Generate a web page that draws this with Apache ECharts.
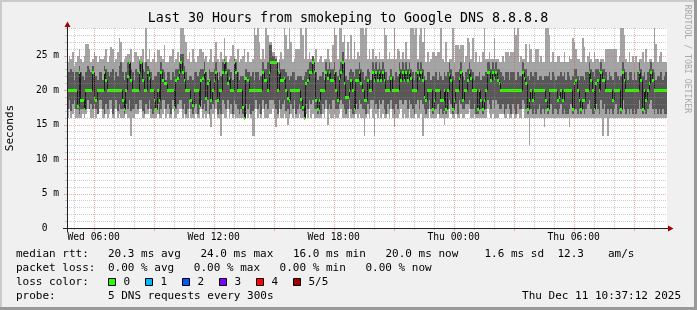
<!DOCTYPE html>
<html><head><meta charset="utf-8">
<script src="https://cdn.jsdelivr.net/npm/echarts@6/dist/echarts.min.js"></script>
<style>html,body{margin:0;padding:0;background:#f0f0f0}#c{width:697px;height:310px}</style>
</head><body><div id="c"></div>
<script>
// time axis in minutes from Wed 00:00; one sample every 5 minutes (300 s)
const startMinute = 280;   // Wed 04:40
const stepMinutes = 5;

// median rtt (ms) per step
const median = [
20,20,20,20,20,20,17.7,22.6,18.6,18.6,17.3,20,20,20,20,22.6,18.8,18.6,20,20,
20,20,22.6,21.4,20,20,20,20,20,20,20,20,20,18.6,17.3,20,22,24,21.4,20,
20,20,20,22.6,24,21.4,20,20,22.6,21.7,20,20,18.6,17.3,20,18.6,22.6,21.4,21,21,
20,20,20,20,17.5,21.4,21.7,22.6,24,22.6,21.4,20,20,20,18.6,17.9,20,20,20,17.7,
21.4,21.7,22.6,18.9,21,21.4,18.6,20,21.4,22.6,18.6,20,20,22.6,24,22.6,21,21.7,20,20,
24,22.6,20,20,20,17.5,16,21.7,21.4,20,20,20,20,20,20,20,20,22.6,21.4,21.4,
20,22.6,24,24,24,24,20,22.6,21.4,21.4,21.7,20,18.8,18.6,20,20,20,20,20,20,
18.7,17.5,16,21,21.4,22.6,22.6,24,22.6,18.6,17.3,18.6,20,20,20,22.6,21.7,22.6,21.4,21.4,
22.6,20,18.6,21.7,22.6,24,21,19,19,20,21.4,20,17.3,21.4,21.4,22.6,21,20,18.6,18.6,
21.4,20,20,22.6,21.4,22.6,21.4,22.6,21.4,22.6,21.4,20,20,20,21.7,20,20,20,20,22.6,
21.4,22.6,21.4,22.6,21.4,22.6,21.7,20,20,20,22.6,21.7,22.6,21.4,19,18.6,20,20,20,17.3,
18.6,20,20,20,18.5,18.6,20,17.3,20,22.4,21.4,17.3,18.6,20,20,21.7,22.6,18.5,20,20,
21.4,22.6,21.7,20,20,20,17.3,20,18.6,17.3,18.6,20,22.6,22.6,21.4,22.6,21.7,22.6,21.4,21,
20,20,20,20,20,20,20,20,20,20,20,20,20,22.6,21.7,21,17.3,18.6,20,18.6,
20,20,20,20,20,20,20,18.6,17.3,20,20,20,20,20,18.6,19,20,18.6,20,20,
20,20,20,17.3,21,21.4,20,18.6,17.3,18.6,18.6,20,20,22.6,21.4,20,17.3,21,21.4,20,
22.6,21.4,21.4,20,20,20,20,18.6,20,20,20,20,17.3,22.6,21.4,20,20,20,20,20,
20,20,20,22.6,21.4,17.3,20,18.6,20,21,22.6,21.4,20,20,20,20,20,20,20,20];

// smoke: lowest ping (ms)
const pingMin = [
16,17.3,16,16.5,17.3,16,16,16,16,16.5,16,16.5,17.3,17.3,16,16,17.3,16,16.5,17.3,
17.3,16,16,16.5,16,16.5,17.3,16,16,17.3,16,16.5,16,16,16,16.5,16,16,13.4,16,
16,16.5,16.5,17.3,17.3,16,16,16.5,16.5,17.3,16,16,16,16,16.5,16,16,16.5,17.3,16,
16.5,16,16,17.3,16,16,16.5,17.3,17.3,16,16.5,16,16,17.3,16,16,16,16.5,16,16,
17.3,16,16.5,16,16.5,16,14.7,16.5,16,17.3,16,16,13.4,16.5,16,16,17.3,16,16.5,16,
16.5,16,16,16,16,16,16,16.5,16,16.5,16,13.4,13.4,17.3,16,16.5,16,17.3,16,16,
16,16.5,16.5,17.3,16,14.7,16,17.3,16,16,16.5,16,14.9,16,16.5,16,17.3,16,16,16.5,
16,16,16,16.5,16,17.3,16,16.5,16,16,16,16,16,16.5,16,17.3,14.9,16.5,16,16,
16.5,16,16,16.5,17.3,16,16,16,16,17.3,16,16,16,16.5,16,16.5,16,16,13.4,16,
16.5,16,17.3,16,13.4,16.5,16,17.3,16,16.5,16,16,16.5,16,17.3,16,14.7,16,16,16.5,
17.3,16,16.5,16,16,17.3,16,16,16,16.5,16,16,16.5,13.4,16,16,16,17.3,16,16,
16,16,16.5,16,16,16,15,16,16,17.3,16.5,16,16,16.5,16,16,16.5,16,16,16.5,
16.5,17.3,16,16,16.5,16,16,16,16,16,16,16,17.3,16.5,16,16.5,16,16,16,16.5,
16.5,16.5,16,16,16.5,16,16,16.5,16,16,16.5,16,16,17.3,16,16,16,12,16,16,
16,16,16,16,16,16,14.7,16,16,16,16,16,16,16,16,16,16,16,16,16,
16,14.7,16,16,16,16,16,16,16,16,16,16,16,16,16,16,16,16,16,16,
16,13.4,16,16,13.4,16,16,16,16,16,16,16,16,16,16,16,16,16,16,16,
16,16,16,16,16,16,16,16,16,16,16,16,16,16,16,16,16,16,16,16];

// smoke: second ping (ms)
const pingLow = [
17.3,18.6,17,18,18.6,17.3,17.3,16.5,17.3,17.3,17,17.3,18.6,17.3,18,17.3,18,17.3,16.5,18.6,
18.6,17.3,16.5,18,17.3,18.6,18.6,16.5,17.3,18.6,17,18,17.3,17.3,16.5,18,17.3,18.6,17,17.3,
17.3,18,17.3,18.6,18.6,17,16.5,18,17.3,18.6,17.3,16.5,17.3,17,18,16.5,17.3,18.6,18.6,17.3,
18,17.3,16.5,18.6,17,17.3,18,18.6,18.6,17.3,18,16.5,17.3,18.6,17.3,16.5,17.3,18,16.5,17.3,
18.6,17.3,18,17,18.6,16.5,17.3,18,17.3,18.6,16.5,17.3,16.5,18.6,18,17.3,18.6,17.3,18,16.5,
18.6,18,17.3,16.5,17.3,16.5,16,18,17.3,18,16.5,17,17.3,18.6,17.3,18,16.5,18.6,17.3,18,
17.3,18.6,18.6,18.6,18,17.3,16.5,18.6,17.3,18,18.6,17,17.3,16.5,18,17.3,18.6,16.5,17.3,18,
17.3,17,16,18,17.3,18.6,18,18.6,17.3,17.3,16.5,17.3,16.5,18,17.3,18.6,17.3,18,17.3,18.6,
18.6,17.3,17.3,18,18.6,18,17.3,16.5,17.3,18.6,17.3,16.5,16.5,18,17.3,18.6,18,17.3,17.3,16.5,
18,17.3,18.6,18.6,17.3,18,17.3,18.6,18,18.6,17.3,16.5,18,17.3,18.6,17.3,16.5,18,17.3,18.6,
18.6,18,18.6,18.6,17.3,18.6,18,17.3,16.5,18,18.6,17.3,18.6,18,17.3,16.5,17.3,18.6,17.3,16.5,
17.3,17.3,18,16.5,17.3,16.5,17,16.5,17.3,18.6,18,16.5,17.3,18,16.5,18.6,18,17.3,17.3,18,
18,18.6,17.3,17.3,18,16.5,16.5,17.3,17.3,16.5,17.3,17.3,18.6,18,17.3,18.6,17.3,18.6,18,17.3,
17.3,18,16.5,17.3,18,17.3,16.5,18,17.3,16.5,18,17.3,17.3,18.6,18,17.3,16.5,17.3,17.3,16.5,
17.3,16.5,17.3,18,16.5,17.3,16.5,17.3,16.5,17.3,18,16.5,17.3,17.3,16.5,17.3,18,16.5,17.3,16.5,
16.5,17.3,18,16.5,18,17.3,16.5,17.3,16.5,17.3,16.5,17.3,18,18.6,17.3,16.5,16.5,18,17.3,16.5,
18.6,17.3,18,16.5,17.3,16.5,17.3,16.5,17.3,18,16.5,17.3,16.5,18.6,17.3,16.5,17.3,16.5,17.3,16.5,
17.3,16.5,17.3,18.6,17.3,16.5,17.3,16.5,17.3,18,18.6,17.3,16.5,17.3,16.5,17.3,16.5,17.3,16.5,16.5];

// smoke: fourth ping (ms)
const pingHigh = [
22.6,22.6,23,22.6,21.4,22.6,22.6,23.5,22.6,22,21.4,22.6,23.5,23,22.6,23.5,22.6,22,21.4,22.6,
22.6,21.4,23.5,23,22.6,22,22.6,23,21.4,22.6,22,23.5,24,22.6,21.4,22.6,24,24.2,23,22.6,
21.4,23,22.6,24.2,24.2,23,22.6,24,23.5,23,22.6,21.4,22,22,22.6,22.6,24,23,22.6,21.4,
22.6,22.6,21.4,22.6,22,23,23,24,25.3,25.3,23.5,22.6,21.4,22,22,21.4,22.6,22.6,22,22.6,
23,23,24,22.6,21.4,23,22.6,22.6,23,24,21.4,22.6,22,24,24.5,24,23,23,22.6,21.4,
24.5,24,22.6,21.4,22,22,21.4,23,22.6,22.6,22,22.6,21.4,22.6,22.6,21.4,22,24,23,23,
24,26.5,26.5,25,25,24.5,22.6,24,23,23,23,22.6,22,21.4,22,22.6,22.6,21.4,22,22,
22,21.4,22,22.6,23,24,24,25,24,22.6,21.4,22,22,22.6,21.4,24,23,24,23,23,
24,22.6,22,23,24,25.5,23,22,21.4,22.6,23,22.6,22,23,23,24,23,22.6,21.4,22,
23,22.6,21.4,24,23,24,23,24,23,24,23,22.6,21.4,22,23,22,21.4,22.6,22,24,
23,24,23,24,23,24,23,22.6,21.4,22.6,24,23,24,23,22,21.4,22.6,22.6,21.4,22,
22,22.6,21.4,22.6,22,21.4,22.6,22,22.6,24,23,22,21.4,22.6,22.6,23,24,22,21.4,22.6,
23,24,23,22.6,21.4,22,22,22.6,21.4,22,22,22.6,24,24,23,24,23,24,23,23,
22.6,22,21.4,22.6,22.6,21.4,22.6,22.6,22.6,21.4,22.6,22,22,24,23,23,22,21.4,22.6,22,
22.6,22.6,21.4,22,22,21.4,22,22,22,22.6,21.4,22.6,22,21.4,22,22,22.6,22,22.6,21.4,
22.6,22,21.4,22,23,23,22,21.4,22,22,21.4,22.6,22.6,24,23,22.6,22,23,23,22.6,
24,23,23,22.6,21.4,22.6,22,21.4,22.6,22.6,22,21.4,22,24,23,22.6,21.4,22.6,22.6,21.4,
22.6,21.4,22.6,24,23,22,22.6,21.4,22.6,23,24,23,22.6,21.4,22,22,22.6,21.4,22,22.6];

// smoke: highest ping (ms)
const pingMax = [
24,25,24.5,25.5,23.5,24,25,26,24.5,24,25,26.7,26.7,26,24,24.5,25.5,25,24,25,
24.5,24.5,25,26,24,25,26.2,26,24,24.5,25.5,27.6,27,24,24.5,25,25.3,25.3,26,24,
25.5,25.5,25,24.5,25,26,24,29,24.5,26,24,24.5,25.5,24,25.8,25.8,25,24.5,26.5,24,
24,25,25,26,24,24.5,25.5,24,29,29,28,27,24.5,25.5,24,26,24.5,24,25,26,
26,25.5,24.5,25,24,24.5,26,24,25,27,24.5,24,25.5,24.5,27.5,25,24,24.5,25,26.5,
25,24.5,26,24,24.5,25,26,24,25.5,24,24,24.5,29,28,29,27,24.5,26,24.5,29,
28,27,27,25.5,25.5,25,24,24.5,25.5,24.5,29,28,26,29,27,24,24.5,26,26,26,
29,28,24.5,29,24.5,25.5,24.5,25,24.5,26,24,24.5,25,24,24.5,24.5,26,24.5,24,26.5,
29,28,24.5,29,29,27,28,24.5,27,24.5,28,24.5,27,24.5,25.5,25,29,29,28,29,
24.5,26,24.5,26,24.5,25,24.5,25.5,24.5,24.5,29,28,24.5,25.5,24.5,24.5,29,24.5,26,25.7,
24.5,25.5,24.5,27,24.5,24.5,29,29,28,29,24.5,28,29,27,29,24,25.5,24,24.5,25.5,
25.5,25,25.5,25.5,29,24.5,24,27,24,24.5,24.5,29,24,26.5,26.5,26,26.5,26.5,24,25,
27.5,27,24.5,27.5,24,25.5,24,25,24,25.5,29,24.5,24.5,25.5,24.5,24.5,27.5,24.5,24.5,24,
24,25,24,25.5,25.5,25,25.5,25.5,29,28,29,24,25,24.5,24.5,26.7,24,26.7,26,24,
24,26,26,24,25,24,24,29,29,28,24,25.5,24,24,25,25,24,24,25.5,24,
24,25,24.5,27.5,27,26,24.5,24.5,24,27.5,26.2,24,25,25.5,24.5,24,25.5,24.5,24.5,24,
24.5,24.5,24,26,26,26,26,26,26,26,24,25,29,29,28,24.5,24,25.5,24,25,
24,25,24,24.5,24.5,25.5,24,26,24,24.5,24.5,24,29,26.7,24,25,25.5,24,24,24];

const yMax = 29;
const xTickValues = [360, 720, 1080, 1440, 1800];
const xTickLabels = ['Wed 06:00', 'Wed 12:00', 'Wed 18:00', 'Thu 00:00', 'Thu 06:00'];
const yTickValues = [0, 5, 10, 15, 20, 25];
const yTickLabels = ['0  ', '5 m', '10 m', '15 m', '20 m', '25 m'];
const gridHours = [300,360,420,480,540,600,660,720,780,840,900,960,1020,1080,1140,1200,1260,1320,1380,1440,1500,1560,1620,1680,1740,1800,1860,1920,1980,2040];
const gridMs = [1,2,3,4,5,6,7,8,9,10,11,12,13,14,15,16,17,18,19,20,21,22,23,24,25,26,27,28,29];

const titleText = 'Last 30 Hours from smokeping to Google DNS 8.8.8.8';
const rttStats = [['median rtt:',16],['20.3 ms avg',108],['24.0 ms max',200.5],['16.0 ms min',293],['20.0 ms now',385.5],['1.6 ms sd',484.5],['12.3',557.5],['am/s',608]];
const lossStats = [['packet loss:',16],['0.00 % avg',108],['0.00 % max',193.8],['0.00 % min',279.6],['0.00 % now',365.4]];
const lossLevels = ['0','1','2','3','4','5/5'];
const lossColors = ['#26ff00','#00b8ff','#0059ff','#7e00ff','#ff0000','#a00000'];
const lossBoxX = [108,145,182,219,256,293];
const probeText = '5 DNS requests every 300s';
const stampText = 'Thu Dec 11 10:37:12 2025';

const MONO = "'DejaVu Sans Mono', monospace";
const LEGEND_FONT = '11px ' + MONO;

const smokeData = median.map((m, i) => [startMinute + i * stepMinutes, pingMin[i], pingLow[i], pingHigh[i], pingMax[i]]);
const medianData = median.map((m, i) => [startMinute + i * stepMinutes, m, i > 0 ? median[i - 1] : m]);

function px(api, t, v) { const p = api.coord([t, v]); return [Math.round(p[0]), Math.round(p[1])]; }

function renderSmoke(params, api) {
  const t = api.value(0);
  const xa = px(api, t, 0)[0], xb = px(api, t + stepMinutes, 0)[0];
  const y1 = px(api, t, api.value(1))[1], y2 = px(api, t, api.value(2))[1];
  const y4 = px(api, t, api.value(3))[1], y5 = px(api, t, api.value(4))[1];
  return { type: 'group', children: [
    { type: 'rect', shape: { x: xa, y: y5, width: xb - xa, height: y1 - y5 }, style: { fill: '#a4a4a4' } },
    { type: 'rect', shape: { x: xa, y: y4, width: xb - xa, height: y2 - y4 }, style: { fill: '#585858' } }
  ]};
}
function renderMedianLine(params, api) {
  const t = api.value(0);
  const xa = px(api, t, 0)[0], xb = px(api, t + stepMinutes, 0)[0];
  const yc = px(api, t, api.value(1))[1], yp = px(api, t, api.value(2))[1];
  return { type: 'group', children: [
    { type: 'line', shape: { x1: xa + 0.5, y1: yp + 0.5, x2: xa + 0.5, y2: yc + 0.5 }, style: { stroke: '#1a1a1a', lineWidth: 1 } },
    { type: 'line', shape: { x1: xa, y1: yc + 0.5, x2: xb, y2: yc + 0.5 }, style: { stroke: '#1a1a1a', lineWidth: 1 } }
  ]};
}
function renderMedianBand(params, api) {
  const t = api.value(0);
  const xa = px(api, t, 0)[0], xb = px(api, t + stepMinutes, 0)[0];
  const yc = px(api, t, api.value(1))[1];
  return { type: 'rect', shape: { x: xa, y: yc - 1, width: xb - xa, height: 3 }, style: { fill: lossColors[0] } };
}
const MINOR = 'rgba(143,143,143,0.46)';
const MAJOR = 'rgba(222,80,80,0.47)';
function renderVGrid(params, api) {
  const t = api.value(0);
  const major = t % 180 === 0;
  const b = px(api, t, 0), top = px(api, t, yMax);
  const x = b[0] + 0.5, c = major ? MAJOR : MINOR;
  return { type: 'group', children: [
    { type: 'line', shape: { x1: x, y1: top[1], x2: x, y2: b[1] }, style: { stroke: c, lineWidth: 1, lineDash: [1, 1] } },
    { type: 'line', shape: { x1: x, y1: b[1], x2: x, y2: b[1] + (major ? 3 : 2) }, style: { stroke: c, lineWidth: 1 } }
  ]};
}
function renderHGrid(params, api) {
  const v = api.value(1);
  const major = v % 5 === 0;
  const l = px(api, startMinute, v), r = px(api, startMinute + median.length * stepMinutes, v);
  const y = l[1] + 0.5, c = major ? MAJOR : MINOR;
  return { type: 'group', children: [
    { type: 'line', shape: { x1: l[0], y1: y, x2: r[0], y2: y }, style: { stroke: c, lineWidth: 1, lineDash: [1, 1] } },
    { type: 'line', shape: { x1: l[0] - (major ? 3 : 2), y1: y, x2: l[0], y2: y }, style: { stroke: c, lineWidth: 1 } }
  ]};
}

const graphics = [
  { type: 'rect', z: 100, shape: { x: 0, y: 0, width: 697, height: 2 }, style: { fill: '#cbcbcb' } },
  { type: 'rect', z: 100, shape: { x: 0, y: 0, width: 2, height: 310 }, style: { fill: '#cbcbcb' } },
  { type: 'rect', z: 100, shape: { x: 0, y: 307, width: 697, height: 3 }, style: { fill: '#999999' } },
  { type: 'rect', z: 100, shape: { x: 694, y: 0, width: 3, height: 310 }, style: { fill: '#999999' } },
  // axes
  { type: 'line', z: 100, shape: { x1: 63, y1: 228.5, x2: 669, y2: 228.5 }, style: { stroke: '#202020', lineWidth: 1 } },
  { type: 'line', z: 100, shape: { x1: 67.5, y1: 232, x2: 67.5, y2: 26 }, style: { stroke: '#202020', lineWidth: 1 } },
  { type: 'polygon', z: 100, shape: { points: [[668, 225.5], [673.5, 228.5], [668, 231.5]] }, style: { fill: '#a00000' } },
  { type: 'polygon', z: 100, shape: { points: [[64.5, 27], [67.5, 21.5], [70.5, 27]] }, style: { fill: '#a00000' } },
  // titles
  { type: 'text', z: 100, x: 348, y: 19, style: { text: titleText, font: '13.3px ' + MONO, fill: '#000', align: 'center', verticalAlign: 'middle' } },
  { type: 'text', z: 100, x: 10, y: 128, rotation: Math.PI / 2, style: { text: 'Seconds', font: '11px ' + MONO, fill: '#000', align: 'center', verticalAlign: 'middle' } },
  { type: 'text', z: 100, x: 687, y: 59, rotation: -Math.PI / 2, style: { text: 'RRDTOOL / TOBI OETIKER', font: '8.2px ' + MONO, fill: '#a8a8a8', align: 'center', verticalAlign: 'middle' } }
];
function addText(t, x, y, align) {
  graphics.push({ type: 'text', z: 100, x: x, y: y, style: { text: t, font: LEGEND_FONT, fill: '#000', align: align || 'left', verticalAlign: 'middle' } });
}
rttStats.forEach(s => addText(s[0], s[1], 254.5));
lossStats.forEach(s => addText(s[0], s[1], 268));
addText('loss color:', 16, 282);
lossLevels.forEach((lv, i) => {
  graphics.push({ type: 'rect', z: 100, shape: { x: lossBoxX[i] + 0.5, y: 278.5, width: 7, height: 7 }, style: { fill: lossColors[i], stroke: '#000', lineWidth: 1 } });
  addText(lv, lossBoxX[i] + 15.5, 282);
});
addText('probe:', 16, 296);
addText(probeText, 108, 296);
addText(stampText, 681, 296, 'right');

const chart = echarts.init(document.getElementById('c'), null, { renderer: 'canvas' });
chart.setOption({
  animation: false,
  backgroundColor: '#f0f0f0',
  grid: { left: 67, top: 28, width: 600, height: 200, show: true, backgroundColor: '#ffffff', borderWidth: 0 },
  xAxis: {
    type: 'value', min: startMinute, max: startMinute + median.length * stepMinutes,
    axisLine: { show: false }, axisTick: { show: false }, splitLine: { show: false },
    axisLabel: { customValues: xTickValues, formatter: v => xTickLabels[xTickValues.indexOf(v)] || '',
      fontFamily: MONO, fontSize: 9.7, color: '#000', margin: 4 }
  },
  yAxis: {
    type: 'value', min: 0, max: yMax,
    axisLine: { show: false }, axisTick: { show: false }, splitLine: { show: false },
    axisLabel: { customValues: yTickValues, formatter: v => yTickLabels[yTickValues.indexOf(v)] || '',
      fontFamily: MONO, fontSize: 9.6, color: '#000', margin: 8 }
  },
  graphic: graphics,
  series: [
    { type: 'custom', name: 'smoke', renderItem: renderSmoke, data: smokeData, encode: { x: 0, y: [1, 2, 3, 4] }, z: 2, silent: true },
    { type: 'custom', name: 'median', renderItem: renderMedianLine, data: medianData, encode: { x: 0, y: [1, 2] }, z: 3, silent: true },
    { type: 'custom', name: 'median loss 0', renderItem: renderMedianBand, data: medianData, encode: { x: 0, y: 1 }, z: 4, silent: true },
    { type: 'custom', name: 'vgrid', renderItem: renderVGrid, data: gridHours.map(h => [h, 0]), encode: { x: 0, y: 1 }, z: 5, silent: true },
    { type: 'custom', name: 'hgrid', renderItem: renderHGrid, data: gridMs.map(v => [startMinute, v]), encode: { x: 0, y: 1 }, z: 5, silent: true }
  ]
});
</script></body></html>
